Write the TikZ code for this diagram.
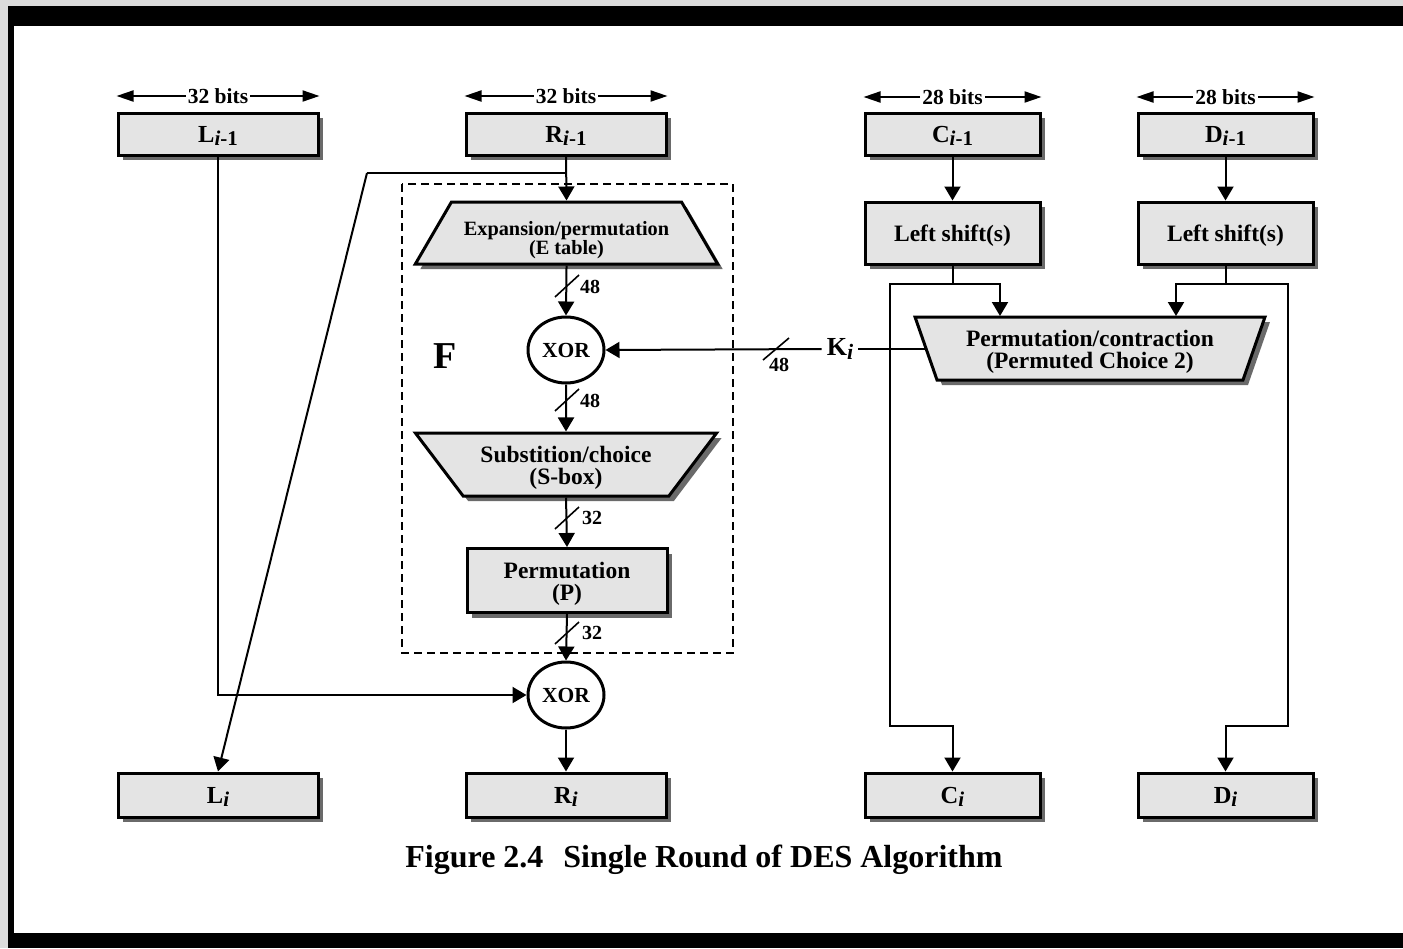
\documentclass[tikz,border=0pt]{standalone}
\usepackage{fontspec}
\setmainfont{Liberation Serif}
\usetikzlibrary{arrows.meta,shapes.geometric,shadows,calc}
\definecolor{boxfill}{HTML}{E4E4E4}
\definecolor{shadowc}{HTML}{6A6A6A}
\definecolor{framegray}{HTML}{DCDCDC}
\newcommand{\lsub}[1]{\raisebox{-3.5pt}{\fontsize{21}{21}\selectfont #1}}
\newcommand{\tstrut}{\rule{0pt}{22pt}}
\begin{document}
\begin{tikzpicture}[x=1pt,y=-1pt,
  box/.style={draw, line width=3pt, fill=boxfill,
    drop shadow={shadow xshift=5pt, shadow yshift=-5pt, fill=shadowc, opacity=1},
    inner sep=0pt, align=center, font=\fontsize{23.5}{22}\selectfont\bfseries},
  trap/.style={box, trapezium, trapezium stretches=true},
  lab/.style={font=\fontsize{24.5}{24}\selectfont\bfseries, text depth=0pt},
  xorn/.style={ellipse, draw, line width=3pt, fill=white, minimum width=76pt,
    minimum height=66pt, inner sep=0pt, font=\fontsize{21.5}{22}\selectfont\bfseries},
  conn/.style={line width=2pt},
  arr/.style={conn, -{Triangle[width=16pt,length=14pt]}},
  dimarr/.style={line width=2pt, -{Triangle[width=11pt,length=17pt]}},
  tick/.style={line width=1.6pt},
  lbl/.style={font=\fontsize{20}{20}\selectfont\bfseries, inner sep=0pt},
  dimlbl/.style={font=\fontsize{21.5}{21}\selectfont\bfseries, inner xsep=2pt, inner ysep=0pt},
  fbox/.style={draw, line width=2pt, dash pattern=on 8pt off 5pt}
]
% frame
\useasboundingbox (0,0) rectangle (1403,948);
\fill[framegray] (0,0) rectangle (1403,948);
\fill[black] (8,6) rectangle (1403,948);
\fill[white] (14,26) rectangle (1403,933);

% dashed F box
\draw[fbox] (402,184) rectangle (733,653);
\node[font=\fontsize{38}{38}\selectfont\bfseries, inner sep=0pt] (F) at (445,356) {F};

% top boxes
\node[box, lab, minimum width=200pt, minimum height=42pt] (Li1) at (218,134) {L\lsub{\textit{i}-1}};
\node[box, lab, minimum width=200pt, minimum height=42pt] (Ri1) at (566,134) {R\lsub{\textit{i}-1}};
\node[box, lab, minimum width=175pt, minimum height=42pt] (Ci1) at (952.5,134) {C\lsub{\textit{i}-1}};
\node[box, lab, minimum width=175pt, minimum height=42pt] (Di1) at (1225.5,134) {D\lsub{\textit{i}-1}};

% width labels
\node[dimlbl] (w1) at (218,96) {32 bits};
\node[dimlbl] (w2) at (566,96) {32 bits};
\node[dimlbl] (w3) at (952.5,97) {28 bits};
\node[dimlbl] (w4) at (1225.5,97) {28 bits};
\foreach \w/\b in {w1/Li1,w2/Ri1,w3/Ci1,w4/Di1}{
  \draw[dimarr] (\w.west) -- (\b.west |- \w.west);
  \draw[dimarr] (\w.east) -- (\b.east |- \w.east);
}

% F function
\node[trap, trapezium angle=51, minimum width=303pt, minimum height=62pt,
  font=\fontsize{19}{20}\selectfont\bfseries] (exp) at (566.5,233)
  {\phantom{Expansion/permutation}\\\phantom{(E table)}};
\node[align=center, inner sep=0pt, font=\fontsize{20.3}{18}\selectfont\bfseries] (expT) at (566.5,240)
  {Expansion/permutation\\(E table)};
\node[xorn] (xor1) at (566,350) {XOR};
\node[trap, shape border rotate=180, trapezium angle=51, minimum width=302pt, minimum height=63pt]
  (sub) at (566,464.5) {\tstrut Substition/choice\\(S-box)};
\node[box, minimum width=200pt, minimum height=64pt] (perm) at (567,580.5) {\tstrut Permutation\\(P)};
\node[xorn] (xor2) at (566,695) {XOR};

% bottom boxes
\node[box, lab, minimum width=200pt, minimum height=44pt] (Li) at (218,795) {L\lsub{\textit{i}}};
\node[box, lab, minimum width=200pt, minimum height=44pt] (Ri) at (566,795) {R\lsub{\textit{i}}};
\node[box, lab, minimum width=175pt, minimum height=44pt] (Ci) at (952.5,795) {C\lsub{\textit{i}}};
\node[box, lab, minimum width=175pt, minimum height=44pt] (Di) at (1225.5,795) {D\lsub{\textit{i}}};

% key schedule
\node[box, text depth=0pt, minimum width=175pt, minimum height=62pt] (ls1) at (952.5,233) {Left shift(s)};
\node[box, text depth=0pt, minimum width=175pt, minimum height=62pt] (ls2) at (1225.5,233) {Left shift(s)};
\node[trap, shape border rotate=180, trapezium angle=70, minimum width=350pt, minimum height=63pt]
  (pc2) at (1090,348.5) {\tstrut Permutation/contraction\\(Permuted Choice 2)};
\node[font=\fontsize{26}{26}\selectfont\bfseries, inner xsep=5pt, inner ysep=0pt] (Ki) at (840,349)
  {K\raisebox{-4pt}{\fontsize{22}{22}\selectfont\textit{i}}};

% coordinates
\coordinate (br) at (566,173);
\coordinate (bl) at (367,173);
\coordinate (j1) at (952.5,284);
\coordinate (j2) at (1225.5,284);
\coordinate (pcinL) at (1000,316);
\coordinate (pcinR) at (1176,316);
\coordinate (cl1) at (890,284);
\coordinate (cl2) at (890,726);
\coordinate (cl3) at (952.5,726);
\coordinate (dr1) at (1288,284);
\coordinate (dr2) at (1288,726);
\coordinate (dr3) at (1225.5,726);
\coordinate (pcL) at (926,349);

% connectors
\draw[arr] (Li1.south) |- (xor2.west);
\draw[arr] (Ri1.south) -- (exp.north);
\draw[conn] (br) -- (bl);
\draw[arr] (bl) -- (Li.north);
\draw[arr] (exp.south) -- (xor1.north);
\draw[arr] (xor1.south) -- (sub.north);
\draw[arr] (sub.south) -- (perm.north);
\draw[arr] (perm.south) -- (xor2.north);
\draw[arr] (xor2.south) -- (Ri.north);
\draw[arr] (Ci1.south) -- (ls1.north);
\draw[arr] (Di1.south) -- (ls2.north);
\draw[conn] (ls1.south) -- (j1);
\draw[conn] (ls2.south) -- (j2);
\draw[arr] (j1) -| (pcinL);
\draw[arr] (j2) -| (pcinR);
\draw[arr] (j1) -- (cl1) -- (cl2) -- (cl3) -- (Ci.north);
\draw[arr] (j2) -- (dr1) -- (dr2) -- (dr3) -- (Di.north);
\draw[conn] (pcL) -- (Ki.east);
\draw[arr] (Ki.west) -- (xor1.east);

% bit-width ticks
\draw[tick] (555,297) -- (579,275);
\node[lbl, anchor=west] (t1) at (580,287) {48};
\draw[tick] (555,411) -- (579,389);
\node[lbl, anchor=west] (t2) at (580,401) {48};
\draw[tick] (555,529) -- (579,507);
\node[lbl, anchor=west] (t3) at (582,518) {32};
\draw[tick] (555,644) -- (579,622);
\node[lbl, anchor=west] (t4) at (582,633) {32};
\draw[tick] (763,360) -- (789,338);
\node[lbl] (t5) at (779,365) {48};

% caption
\node[font=\fontsize{32}{32}\selectfont\bfseries, inner sep=0pt] (cap) at (704,860)
  {Figure 2.4\hspace{20pt}Single Round of DES Algorithm};
\end{tikzpicture}
\end{document}
